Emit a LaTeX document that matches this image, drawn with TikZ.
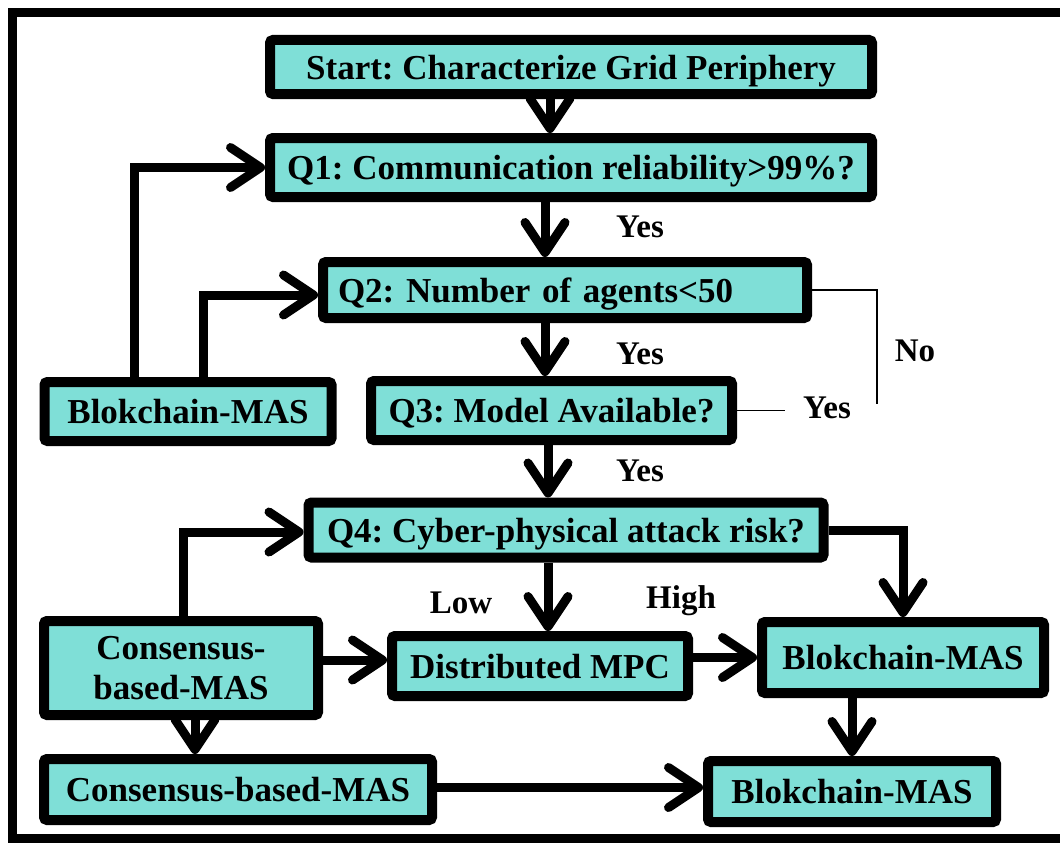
\documentclass[tikz,border=0pt]{standalone}
\usepackage{fontspec}
\setmainfont{Liberation Serif}
\usetikzlibrary{arrows.meta}
\definecolor{boxfill}{RGB}{127,223,215}
\frenchspacing
\begin{document}
\begin{tikzpicture}[x=1pt,y=-1pt,
  box/.style={draw=black, fill=boxfill, line width=10pt, rounded corners=3pt, inner sep=0pt,
    font=\fontsize{35}{40}\selectfont\bfseries\frenchspacing, align=center, text depth=0pt},
  arr/.style={line width=9pt, -{Straight Barb[length=30pt,width=40pt,round]}},
  lbl/.style={font=\fontsize{33}{38}\selectfont\bfseries, anchor=base, inner sep=0pt},
  thinline/.style={line width=1.5pt}]
\useasboundingbox (0,0) rectangle (1060,843);
\draw[line width=9pt] (1065,12.5) -- (12.5,12.5) -- (12.5,838) -- (1065,838);

% boxes
\node[box, minimum width=602pt, minimum height=54pt] (start) at (571,67) {Start: Characterize Grid Periphery};
\node[box, minimum width=602pt, minimum height=59pt] (q1) at (571,167.5) {Q1: Communication reliability>99\%?};
\node[box, minimum width=484pt, minimum height=56pt, align=left, text width=454pt, inner xsep=15pt] (q2) at (565,290) {Q2: Number of agents<50};
\node[box, minimum width=361pt, minimum height=59pt] (q3) at (551.5,410.5) {Q3: Model Available?};
\node[box, minimum width=287pt, minimum height=59pt] (bl1) at (188,411.5) {Blokchain-MAS};
\node[box, minimum width=515pt, minimum height=55pt] (q4) at (566,530) {Q4: Cyber-physical attack risk?};
\node[box, minimum width=296pt, minimum height=60pt] (mpc) at (540,666) {Distributed MPC};
\node[box, minimum width=282pt, minimum height=71pt] (bl2) at (903,657.5) {Blokchain-MAS};
\node[box, minimum width=288pt, minimum height=61pt] (bl3) at (852,791.5) {Blokchain-MAS};
\node[box, minimum width=274pt, minimum height=94pt] (cons1) at (181,668) {Consensus-\\based-MAS};
\node[box, minimum width=388pt, minimum height=61pt] (cons2) at (238,789.5) {Consensus-based-MAS};

% main flow
\draw[arr] ([xshift=-21pt]start.south) -- ([xshift=-21pt]start.south |- q1.north);
\draw[arr] ([xshift=-26pt]q1.south) -- ([xshift=-26pt]q1.south |- q2.north);
\draw[arr] ([xshift=-20pt]q2.south) -- ([xshift=-20pt]q2.south |- q3.north);
\draw[arr] ([xshift=-3.5pt]q3.south) -- ([xshift=-3.5pt]q3.south |- q4.north);
\draw[arr] ([xshift=8pt]mpc.north |- q4.south) -- ([xshift=8pt]mpc.north);
\draw[arr] (q4.east) -| (bl2.north);
\draw[arr] (mpc.east |- bl2.west) -- (bl2.west);
\draw[arr] (bl3.north |- bl2.south) -- (bl3.north);

% left feedback
\draw[arr] ([xshift=-54pt]bl1.north) |- (q1.west);
\draw[arr] ([xshift=15pt]bl1.north) |- ([yshift=-5pt]q2.west);
\draw[arr] ([xshift=2pt]cons1.north) |- ([yshift=-2pt]q4.west);
\draw[arr] ([yshift=6pt]cons1.east |- mpc.west) -- ([yshift=6pt]mpc.west);
\draw[arr] ([xshift=14pt]cons1.south) -- ([xshift=14pt]cons1.south |- cons2.north);
\draw[arr] ([yshift=2pt]cons2.east) -- ([yshift=2pt]cons2.east -| bl3.west);

% thin lines
\coordinate (nocorner) at (877,290);
\coordinate (noend) at (877,404);
\draw[thinline] (q2.east) -- (nocorner) -- (noend);
\coordinate (yesend) at (785,410.5);
\draw[thinline] (q3.east) -- (yesend);

% labels
\node[lbl] (yes1) at (640,237) {Yes};
\node[lbl] (yes2) at (640,364) {Yes};
\node[lbl] (yes3) at (640,481) {Yes};
\node[lbl] (no) at (915,361) {No};
\node[lbl] (yes4) at (827,418) {Yes};
\node[lbl] (low) at (461,613) {Low};
\node[lbl] (high) at (681,608) {High};
\end{tikzpicture}
\end{document}
